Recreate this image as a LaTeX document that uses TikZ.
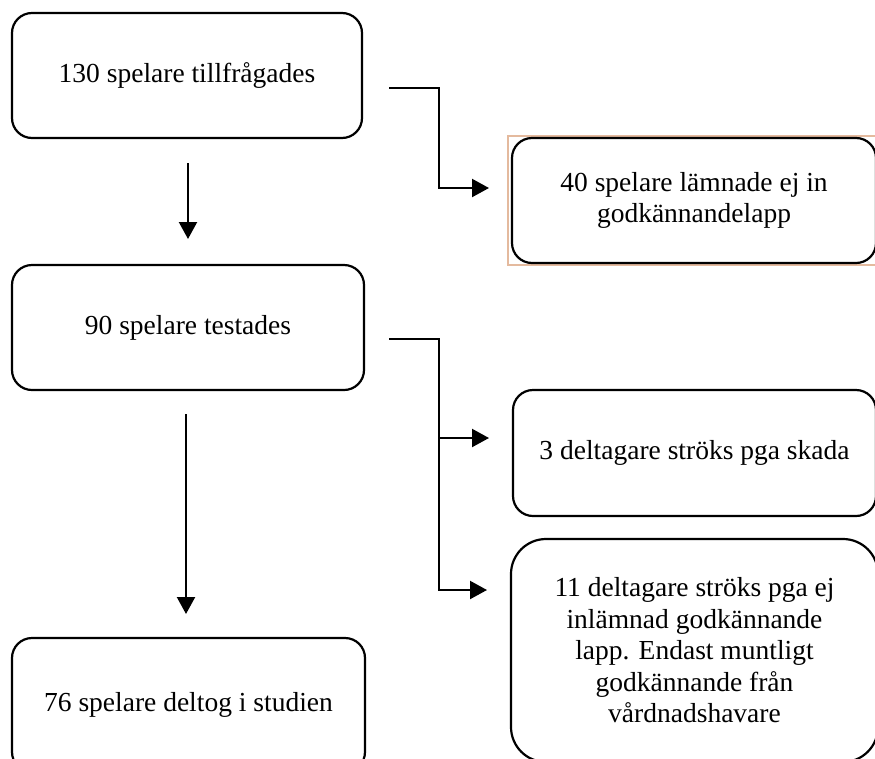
\documentclass[tikz,border=0pt]{standalone}
\usepackage{fontspec}
\setmainfont{Liberation Serif}
\usetikzlibrary{arrows.meta}
\definecolor{tanline}{RGB}{228,186,158}
\tikzset{
  box/.style={draw=black, line width=2.2pt, rounded corners=20pt, align=center,
    inner sep=0pt, font=\fontsize{27.5}{31.5}\selectfont},
  conn/.style={line width=2.2pt, -{Triangle[length=17pt,width=18pt]}},
}
\begin{document}
\begin{tikzpicture}[x=1pt,y=-1pt]
\useasboundingbox (0,0) rectangle (875,758);
\clip (0,0) rectangle (875,758);
\fill[white] (0,0) rectangle (875,758);

% tan outline behind box 2
\draw[tanline, line width=1.8pt] (508,136) rectangle (890,265);

\node[box, minimum width=350pt, minimum height=125pt] (b1) at (187,75.5) {130 spelare tillfrågades};
\node[box, minimum width=364pt, minimum height=125pt] (b2) at (694,200.5) {40 spelare lämnade ej in\\godkännandelapp};
\node[box, minimum width=352pt, minimum height=125pt] (b3) at (188,327.5) {90 spelare testades};
\node[box, minimum width=363pt, minimum height=126pt] (b4) at (694.5,453) {3 deltagare ströks pga skada};
\node[box, rounded corners=35pt, minimum width=367pt, minimum height=223pt] (b5) at (694.5,650.5) {11 deltagare ströks pga ej\\inlämnad godkännande\\lapp. Endast muntligt\\godkännande från\\vårdnadshavare};
\node[box, minimum width=353pt, minimum height=134pt] (b6) at (188.5,705) {76 spelare deltog i studien};

% connector end points
\coordinate (s12) at (389,88);
\coordinate (k12) at (439,88);
\coordinate (e12) at (489,188);
\coordinate (s13) at (188,163);
\coordinate (e13) at (188,239);
\coordinate (s34) at (389,339);
\coordinate (k34) at (439,339);
\coordinate (e34) at (489,438);
\coordinate (e35) at (487,590);
\coordinate (s36) at (186,414);
\coordinate (e36) at (186,614);

\draw[conn] (s12) -- (k12) |- (e12);
\draw[conn] (s13) -- (e13);
\draw[conn] (s34) -- (k34) |- (e34);
\draw[conn] (k34) |- (e35);
\draw[conn] (s36) -- (e36);
\end{tikzpicture}
\end{document}
